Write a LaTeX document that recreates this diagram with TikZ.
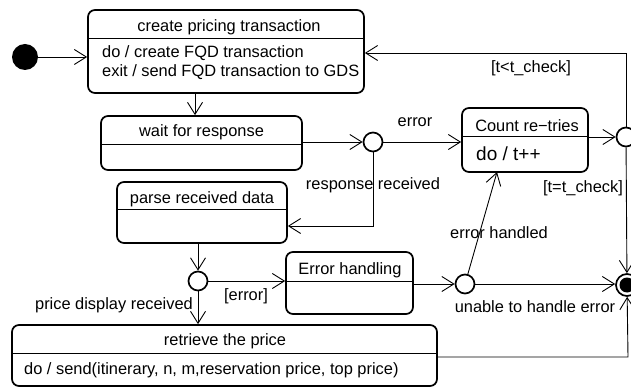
\documentclass[tikz,border=0pt]{standalone}
\usepackage{fontspec}
\setmainfont{Liberation Sans}
\usetikzlibrary{arrows.meta}
\tikzset{
  box/.style={draw, line width=1.7pt, rounded corners=7pt, inner sep=0pt},
  sepline/.style={line width=0.9pt},
  arr/.style={line width=0.9pt, -{Straight Barb[length=12pt,width=15pt,line width=0.9pt]}},
  ln/.style={line width=0.9pt},
  junc/.style={circle, draw, line width=1.7pt, fill=white, inner sep=0pt, minimum size=19pt},
  txt/.style={inner sep=0pt, font=\fontsize{16.4}{19}\selectfont},
  lbl/.style={inner sep=0pt, font=\fontsize{16.4}{19}\selectfont},
}
\begin{document}
\begin{tikzpicture}[x=1pt,y=-1pt]
\useasboundingbox (0,0) rectangle (631,387);
% boxes
\node[box, minimum width=276pt, minimum height=83pt] (create) at (226,51.5) {};
\node[box, minimum width=201pt, minimum height=54pt] (wait) at (201.5,143) {};
\node[box, minimum width=170pt, minimum height=61pt] (parse) at (202,212.5) {};
\node[box, minimum width=126pt, minimum height=64pt] (count) at (525,140) {};
\node[box, minimum width=127pt, minimum height=62pt] (errh) at (349.5,283) {};
\node[box, minimum width=425pt, minimum height=61pt] (ret) at (224.5,355.5) {};
% separators
\draw[sepline] (create.west |- 0,38) -- (create.east |- 0,38);
\draw[sepline] (wait.west |- 0,144) -- (wait.east |- 0,144);
\draw[sepline] (parse.west |- 0,209) -- (parse.east |- 0,209);
\draw[sepline] (count.west |- 0,136) -- (count.east |- 0,136);
\draw[sepline] (errh.west |- 0,281) -- (errh.east |- 0,281);
\draw[sepline] (ret.west |- 0,353) -- (ret.east |- 0,353);
% box texts
\node[txt] (t1) at (229,27) {create pricing transaction};
\node[txt, anchor=west] (t1a) at (102,53) {do / create FQD transaction};
\node[txt, anchor=west] (t1b) at (102,72) {exit / send FQD transaction to GDS};
\node[txt] (t2) at (201.5,132) {wait for response};
\node[txt] (t3) at (202,199) {parse received data};
\node[txt] (t4) at (527,126) {Count re−tries};
\node[txt, anchor=west, font=\fontsize{19}{22}\selectfont] (t4a) at (476,154) {do / t++};
\node[txt] (t5) at (350,270) {Error handling};
\node[txt] (t6) at (225,341) {retrieve the price};
\node[txt, anchor=west] (t6a) at (24,370) {do / send(itinerary, n, m,reservation price, top price)};
% pseudo states
\node[circle, fill=black, inner sep=0pt, minimum size=26pt] (init) at (25,57) {};
\node[junc] (c1) at (373,142) {};
\node[junc] (c2) at (626,137) {};
\node[junc] (c3) at (198,281) {};
\node[junc] (c4) at (465,284) {};
\node[circle, draw, line width=1.7pt, fill=white, inner sep=0pt, minimum size=22pt] (fin) at (627,285) {};
\fill (fin.center) circle (7.5pt);
% helper coordinates
\coordinate (tp) at (626,53);
\coordinate (pr) at (373,226);
\coordinate (cb) at (497,172);
\coordinate (rr) at (628,357);
% connectors
\draw[arr] (init) -- (create.west |- init);
\draw[arr] (create.south -| 195,0) -- (wait.north -| 195,0);
\draw[arr] (wait.east |- c1) -- (c1);
\draw[arr] (c1) -- (count.west |- c1);
\draw[arr] (count.east |- c2) -- (c2);
\draw[arr] (c2) -- (tp) -- (create.east |- tp);
\draw[arr] (c2) -- (fin);
\draw[arr] (c1) -- (pr) -- (parse.east |- pr);
\draw[arr] (parse.south -| c3) -- (c3);
\draw[arr] (c3) -- (errh.west |- c3);
\draw[arr] (c3) -- (ret.north -| c3);
\draw[arr] (errh.east |- c4) -- (c4);
\draw[arr] (c4) -- (cb);
\draw[arr] (c4) -- (fin.west |- c4);
\draw[arr] (ret.east |- rr) -- (rr) -- (fin);
% labels
\node[lbl] (l1) at (415,122) {error};
\node[lbl] (l2) at (373,185) {response received};
\node[lbl] (l3) at (531,68) {[t<t\_check]};
\node[lbl] (l4) at (583,188) {[t=t\_check]};
\node[lbl] (l5) at (499,233) {error handled};
\node[lbl] (l6) at (535,307) {unable to handle error};
\node[lbl] (l7) at (246,296) {[error]};
\node[lbl] (l8) at (114,305) {price display received};
\end{tikzpicture}
\end{document}
